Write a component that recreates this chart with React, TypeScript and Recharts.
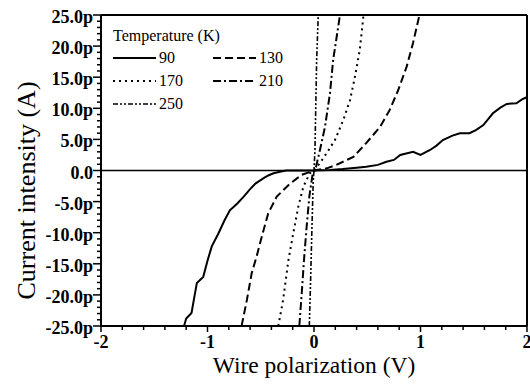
import { LineChart, Line, XAxis, YAxis, ReferenceLine, Legend } from "recharts"

// wire polarization (V) / current intensity (pA) for each temperature (K)
const v90 = [-1.22, -1.2, -1.15, -1.12, -1.1, -1.04, -1.0, -0.96, -0.9, -0.84, -0.79, -0.72, -0.66, -0.6, -0.55, -0.48, -0.43, -0.38, -0.32, -0.26, -0.1, 0, 0.15, 0.27, 0.4, 0.49, 0.6, 0.68, 0.75, 0.81, 0.93, 1.0, 1.09, 1.15, 1.21, 1.3, 1.37, 1.46, 1.52, 1.59, 1.68, 1.75, 1.81, 1.9, 1.96, 2.0]
const i90 = [-25, -23.8, -22.9, -20, -18.1, -17.1, -14.5, -12.2, -10.2, -8, -6.4, -5.3, -4.2, -3, -2.1, -1.3, -0.8, -0.45, -0.2, 0, 0, 0, 0.1, 0.24, 0.45, 0.6, 0.9, 1.4, 1.7, 2.5, 3.0, 2.5, 3.3, 4.0, 4.9, 5.6, 6.0, 6.0, 6.5, 7.3, 9.2, 10.1, 10.7, 10.8, 11.5, 11.8]

const v130 = [-0.68, -0.63, -0.585, -0.54, -0.49, -0.43, -0.35, -0.225, -0.115, 0, 0.12, 0.21, 0.37, 0.49, 0.62, 0.71, 0.79, 0.87, 0.93, 0.99]
const i130 = [-25, -20.8, -16.5, -13.9, -10.6, -6.9, -4.2, -2.1, -0.7, 0, 0.35, 0.9, 2.2, 4.4, 7.0, 9.7, 12.9, 16.7, 20.5, 25]

const v170 = [-0.335, -0.29, -0.24, -0.195, -0.147, -0.1, -0.04, 0, 0.056, 0.119, 0.197, 0.275, 0.338, 0.385, 0.43, 0.465]
const i170 = [-25, -20.8, -14.4, -10.1, -5.8, -2.6, -0.45, 0, 1.2, 2.8, 4.9, 8.1, 11.3, 15.1, 19.4, 25]

const v210 = [-0.138, -0.115, -0.094, -0.069, -0.044, -0.012, 0, 0.019, 0.056, 0.103, 0.15, 0.18, 0.213, 0.244]
const i210 = [-25, -19.7, -14.4, -9.0, -4.2, -0.45, 0, 0.6, 3.3, 7.0, 12.4, 17.8, 21.5, 25]

const v250 = [-0.044, -0.031, -0.019, -0.007, 0, 0.009, 0.016, 0.025, 0.04]
const i250 = [-25, -17.1, -9.0, -1.5, 0, 3.3, 9.7, 17.8, 25]

const xMajor = [-2, -1, 0, 1, 2]
const yMajor = [-25, -20, -15, -10, -5, 0, 5, 10, 15, 20, 25]
const xTicks = Array.from({ length: 21 }, (_, k) => Math.round((-2 + k * 0.2) * 10) / 10)
const yTicks = Array.from({ length: 51 }, (_, k) => -25 + k)

const zip = (xs: number[], ys: number[]) => xs.map((x, k) => ({ x, y: ys[k] }))

const series = [
    { name: "90", data: zip(v90, i90), dash: undefined, width: 2 },
    { name: "130", data: zip(v130, i130), dash: "8 4", width: 2 },
    { name: "170", data: zip(v170, i170), dash: "2 4", width: 2 },
    { name: "210", data: zip(v210, i210), dash: "8 3 2 3", width: 2 },
    { name: "250", data: zip(v250, i250), dash: "5 2 2 2 2 2", width: 1.6 },
]

const font = "Liberation Serif, DejaVu Serif, serif"

function TempLegend() {
    return (
        <div style={{ fontFamily: font, color: "#000" }}>
            <div style={{ fontSize: 16, lineHeight: "20px" }}>Temperature (K)</div>
            <div style={{ display: "grid", gridTemplateColumns: "100px 80px", lineHeight: "23px" }}>
                {series.map((s) => (
                    <div key={s.name} style={{ display: "flex", alignItems: "center", fontSize: 16 }}>
                        <svg width={43} height={10} style={{ marginRight: 3 }}>
                            <line x1={0} y1={5} x2={43} y2={5} stroke="#000" strokeWidth={s.width} strokeDasharray={s.dash} />
                        </svg>
                        {s.name}
                    </div>
                ))}
            </div>
        </div>
    )
}

function YTitle(props: any) {
    const { x, y, height } = props.viewBox
    const cx = x + 35
    const cy = y + height / 2 + 20
    return (
        <text x={cx} y={cy} transform={`rotate(-90 ${cx} ${cy})`} textAnchor="middle" fontFamily={font} fontSize={26} fill="#000">
            Current intensity (A)
        </text>
    )
}

function XTick(props: any) {
    const { x, y, payload } = props
    const v = payload.value
    const major = xMajor.includes(v)
    return (
        <g>
            <line x1={x} y1={y} x2={x} y2={y + (major ? 6 : 4)} stroke="#000" strokeWidth={1.5} />
            {major && (
                <text x={x} y={y + 22} textAnchor="middle" fontFamily={font} fontSize={18} fontWeight="bold" fill="#000">
                    {String(v)}
                </text>
            )}
        </g>
    )
}

function YTick(props: any) {
    const { x, y, payload } = props
    const v = payload.value
    const major = yMajor.includes(v)
    return (
        <g>
            <line x1={x} y1={y} x2={x - (major ? 8 : 4)} y2={y} stroke="#000" strokeWidth={1.5} />
            {major && (
                <text x={x - 8} y={y + 8} textAnchor="end" fontFamily={font} fontSize={18} fontWeight="bold" fill="#000">
                    {v === 0 ? "0.0" : `${v.toFixed(1)}p`}
                </text>
            )}
        </g>
    )
}

export default function App() {
    return (
        <div style={{ position: "absolute", left: 0, top: 0, background: "#fff" }}>
            <LineChart width={530} height={387} margin={{ top: 15, right: 3, left: 0, bottom: 0 }}>
                <XAxis
                    type="number"
                    dataKey="x"
                    domain={[-2, 2]}
                    ticks={xTicks}
                    interval={0}
                    tickSize={0}
                    tickMargin={0}
                    tickLine={false}
                    tick={XTick}
                    height={61}
                    stroke="#000"
                    strokeWidth={2}
                    label={{ value: "Wire polarization (V)", position: "insideBottom", offset: 14, fontFamily: font, fontSize: 23.5, fill: "#000" }}
                    allowDataOverflow
                />
                <YAxis
                    type="number"
                    domain={[-25, 25]}
                    ticks={yTicks}
                    interval={0}
                    tickSize={0}
                    tickMargin={0}
                    tickLine={false}
                    tick={YTick}
                    width={101}
                    stroke="#000"
                    strokeWidth={2}
                    label={{ content: YTitle }}
                    allowDataOverflow
                />
                <ReferenceLine y={0} stroke="#000" strokeWidth={1.5} />
                <ReferenceLine y={25} stroke="#000" strokeWidth={2} />
                <ReferenceLine x={2} stroke="#000" strokeWidth={2} />
                <Legend
                    layout="horizontal"
                    verticalAlign="middle"
                    align="center"
                    wrapperStyle={{ left: 113, top: 26, width: 200 }}
                    content={() => <TempLegend />}
                />
                {series.map((s) => (
                    <Line
                        key={s.name}
                        data={s.data}
                        dataKey="y"
                        name={s.name}
                        stroke="#000"
                        strokeWidth={s.width}
                        strokeDasharray={s.dash}
                        dot={false}
                        activeDot={false}
                        type="linear"
                        isAnimationActive={false}
                    />
                ))}
            </LineChart>
        </div>
    )
}
